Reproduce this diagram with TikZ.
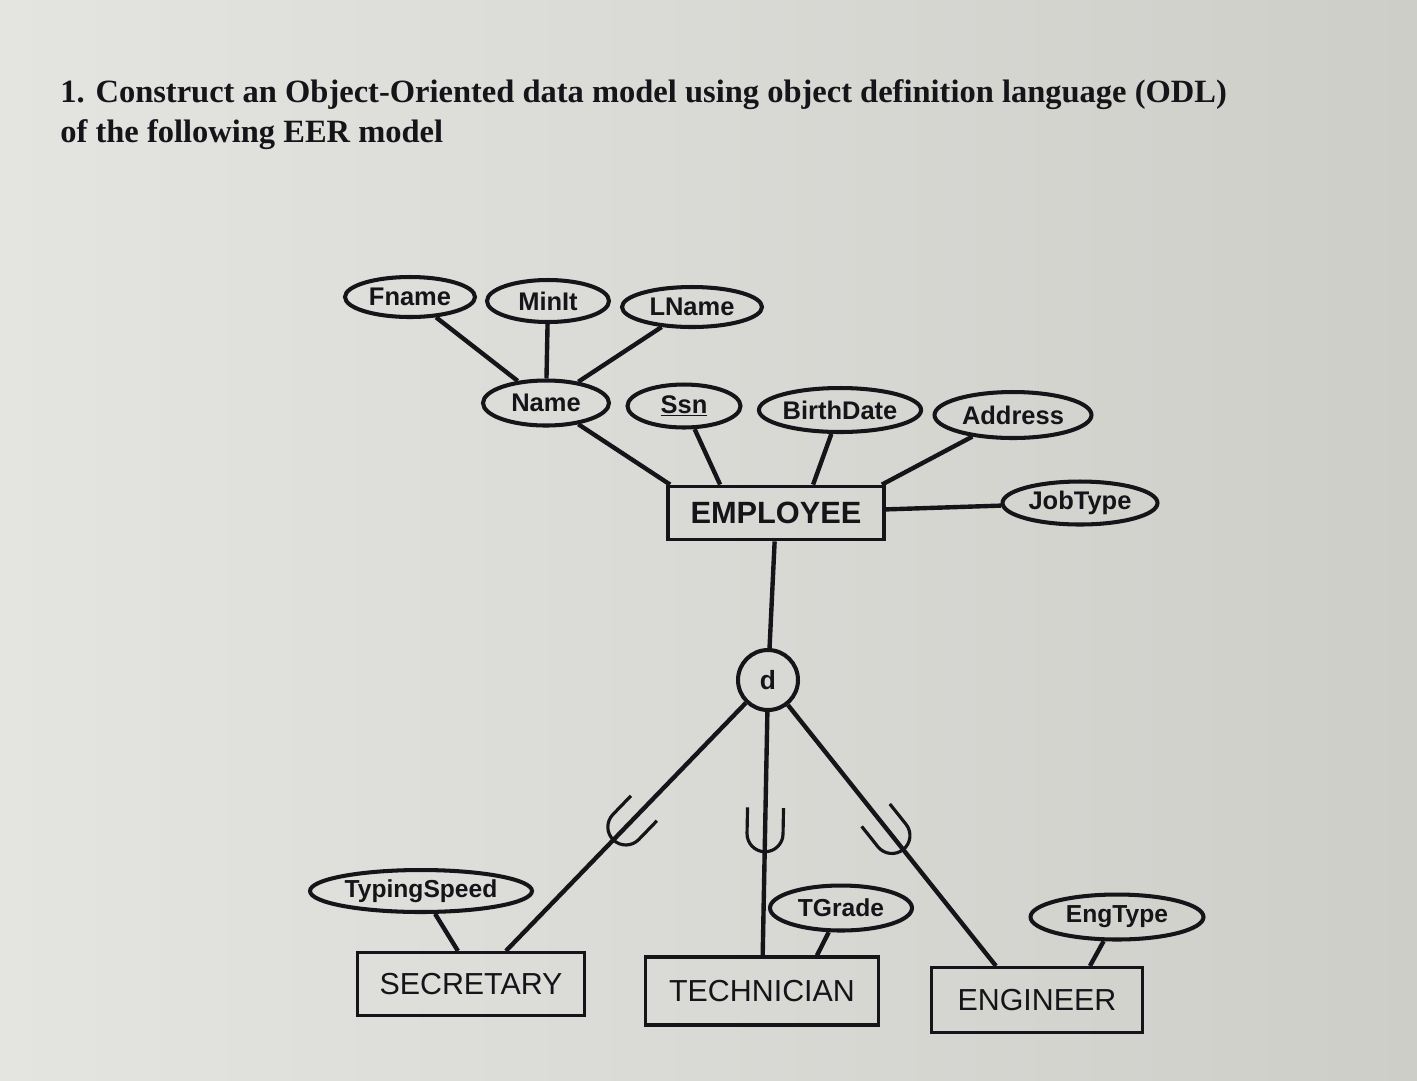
\documentclass[tikz,border=0pt]{standalone}
\usepackage{fontspec}
\setmainfont{Liberation Serif}
\setsansfont{Liberation Sans}
\usetikzlibrary{shapes.geometric,calc}
\definecolor{bgleft}{RGB}{228,228,225}
\definecolor{bgright}{RGB}{206,206,201}
\definecolor{ink}{RGB}{20,20,25}
\begin{document}
\begin{tikzpicture}[x=0.02cm,y=-0.02cm,
  attr/.style={ellipse,draw=ink,line width=2.3pt,inner sep=0pt,font=\sffamily\bfseries\fontsize{14.5}{14.5}\selectfont,text=ink},
  subattr/.style={attr,font=\sffamily\bfseries\fontsize{14}{14}\selectfont},
  entity/.style={rectangle,draw=ink,line width=1.8pt,inner sep=0pt,font=\sffamily\fontsize{17.3}{18}\selectfont,text=ink},
  conn/.style={draw=ink,line width=2.5pt},
  subsetsym/.pic={\draw[ink,line width=1.8pt] (-26,18) -- (0,18) arc(90:-90:18) -- (-26,-18);}
]
\useasboundingbox (0,0) rectangle (1417,1080);
\shade[left color=bgleft,right color=bgright] (0,0) rectangle (1417,1080);

% title
\node[anchor=base west,inner sep=0pt,text=ink,font=\bfseries\fontsize{18.5}{21}\selectfont] (t1) at (60,102) {1. Construct an Object-Oriented data model using object definition language (ODL)};
\node[anchor=base west,inner sep=0pt,text=ink,font=\bfseries\fontsize{18.5}{21}\selectfont] (t2) at (60,142) {of the following EER model};

% attributes
\node[attr,minimum width=2.6cm,minimum height=0.8cm] (fname) at (410,297) {Fname};
\node[attr,minimum width=2.44cm,minimum height=0.84cm] (minit) at (548,301) {MinIt};
\node[attr,minimum width=2.8cm,minimum height=0.8cm] (lname) at (692,307) {LName};
\node[attr,minimum width=2.52cm,minimum height=0.9cm] (name) at (546,403) {Name};
\node[attr,minimum width=2.26cm,minimum height=0.86cm] (ssn) at (684,406) {\underline{Ssn}};
\node[attr,minimum width=3.2cm,minimum height=0.88cm] (bdate) at (840,410) {BirthDate};
\node[attr,minimum width=3.14cm,minimum height=0.92cm] (addr) at (1013,415) {Address};
\node[attr,minimum width=3.1cm,minimum height=0.86cm] (jtype) at (1080,503) {JobType};
\node[subattr,minimum width=4.44cm,minimum height=0.84cm] (tspeed) at (421,891) {TypingSpeed};
\node[subattr,minimum width=2.84cm,minimum height=0.9cm] (tgrade) at (841,908) {TGrade};
\node[subattr,minimum width=3.46cm,minimum height=0.9cm] (etype) at (1117,917) {EngType};

% entities
\node[entity,minimum width=4.32cm,minimum height=1.06cm,line width=2.2pt,font=\sffamily\bfseries\fontsize{17.5}{18}\selectfont] (emp) at (776,513) {EMPLOYEE};
\node[entity,minimum width=4.54cm,minimum height=1.26cm] (sec) at (471,984) {SECRETARY};
\node[entity,minimum width=4.66cm,minimum height=1.36cm] (tech) at (762,991) {TECHNICIAN};
\node[entity,minimum width=4.22cm,minimum height=1.3cm] (eng) at (1037,1000) {ENGINEER};

% disjoint circle
\node[circle,draw=ink,line width=2.3pt,minimum size=1.2cm,inner sep=0pt,font=\sffamily\bfseries\fontsize{15}{15}\selectfont,text=ink] (d) at (768,680) {d};

% connectors: composite attribute
\draw[conn] (fname) -- (name);
\draw[conn] (minit) -- (name);
\draw[conn] (lname) -- (name);

% attributes to EMPLOYEE
\draw[conn] (name) -- ($(emp.north west)+(4,0)$);
\draw[conn] (ssn) -- ($(emp.north west)+(54,0)$);
\draw[conn] (bdate) -- ($(emp.north west)+(147,0)$);
\draw[conn] (addr) -- ($(emp.north east)+(-4,0)$);
\draw[conn] (emp) -- (jtype);

% specialisation
\draw[conn] (emp) -- (d);
\draw[conn] (d) -- ($(sec.north west)+(150,0)$) pic[pos=0.5,sloped,allow upside down]{subsetsym};
\draw[conn] (d) -- (tech) pic[pos=0.5,sloped,allow upside down]{subsetsym};
\draw[conn] (d) -- ($(eng.north west)+(66,0)$) pic[pos=0.5,sloped,allow upside down]{subsetsym};

% local attributes
\draw[conn] (tspeed) -- ($(sec.north west)+(102,0)$);
\draw[conn] (tgrade) -- ($(tech.north west)+(173,0)$);
\draw[conn] (etype) -- ($(eng.north west)+(160,0)$);
\end{tikzpicture}
\end{document}
